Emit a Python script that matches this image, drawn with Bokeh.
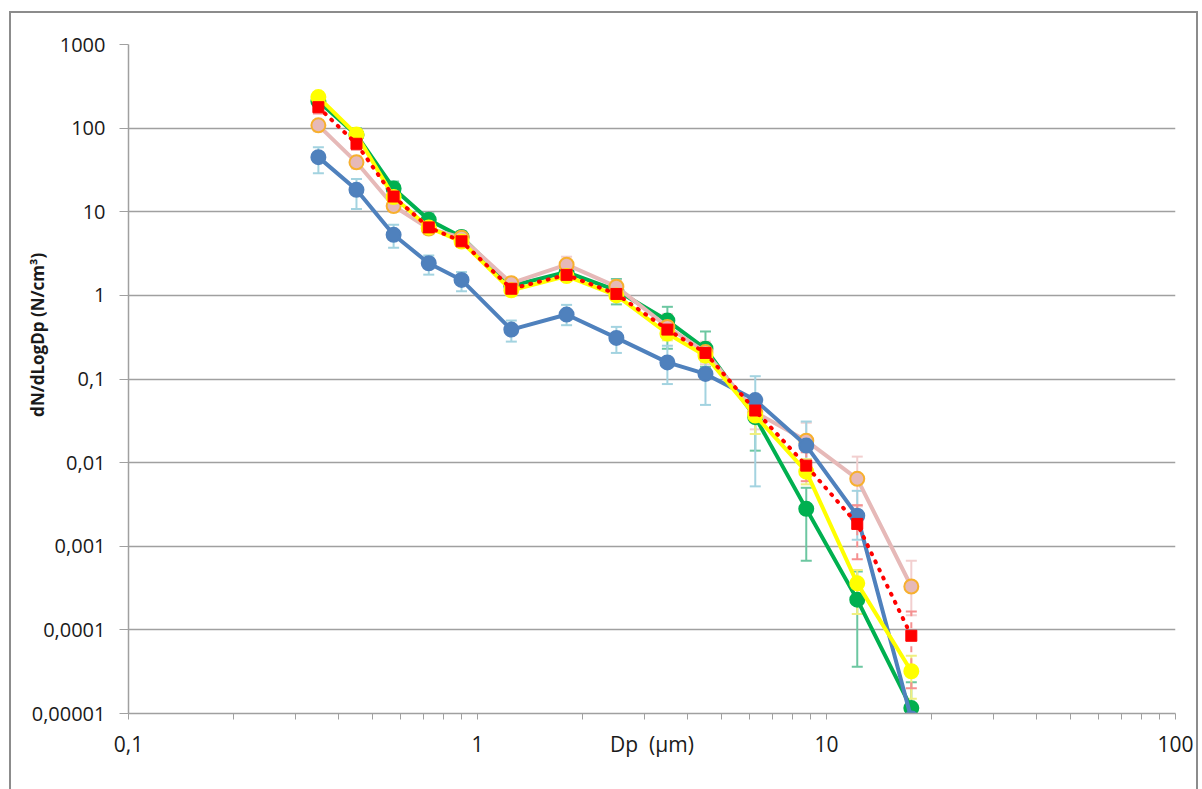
from bokeh.plotting import figure
from bokeh.models import (ColumnDataSource, FixedTicker, CustomJSTickFormatter,
                          Legend, LegendItem, Range1d)
from bokeh.embed import file_html
from bokeh.resources import INLINE

# ---------------- data ----------------
dp = [0.35, 0.45, 0.575, 0.725, 0.9, 1.25, 1.8, 2.5, 3.5, 4.5, 6.25, 8.75, 12.25, 17.5]

primavera = [210, 83, 19, 8.0, 5.0, 1.3, 1.9, 1.15, 0.50, 0.23, 0.035, 0.0028, 0.00023, 0.0000116]
primavera_hi = [260, 100, 23, 9.5, 5.8, 1.5, 2.2, 1.57, 0.73, 0.37, 0.06, 0.005, 0.0005, 0.0000236]
primavera_lo = [170, 68, 16, 6.8, 4.3, 1.1, 1.6, 0.78, 0.23, 0.14, 0.0139, 0.00067, 0.0000363, 0.00001]

autunno = [108, 39, 11.7, 6.3, 4.9, 1.40, 2.33, 1.27, 0.42, 0.21, 0.040, 0.0183, 0.0064, 0.00033]
autunno_hi = [125, 46, 13.5, 7.2, 5.6, 1.6, 2.9, 1.5, 0.6, 0.28, 0.06, 0.03, 0.0118, 0.00067]
autunno_lo = [92, 33, 10, 5.4, 4.2, 1.2, 1.85, 1.05, 0.33, 0.15, 0.025, 0.011, 0.003, 0.00015]

inverno = [45, 18.3, 5.3, 2.42, 1.53, 0.39, 0.59, 0.31, 0.158, 0.115, 0.056, 0.016, 0.00232, 0.0000087]
inverno_hi = [59, 24.7, 7.0, 3.0, 1.9, 0.5, 0.77, 0.42, 0.25, 0.2, 0.108, 0.031, 0.0046, 0.0000087]
inverno_lo = [28.9, 10.8, 3.7, 1.77, 1.12, 0.28, 0.44, 0.205, 0.087, 0.049, 0.0052, 0.008, 0.0012, 0.0000087]

estate = [235, 84, 15, 6.5, 4.4, 1.15, 1.7, 1.0, 0.35, 0.19, 0.0365, 0.0078, 0.00036, 0.000032]
estate_hi = [270, 95, 17, 7.2, 4.9, 1.3, 1.95, 1.15, 0.42, 0.23, 0.045, 0.011, 0.00052, 0.000049]
estate_lo = [200, 72, 13, 5.8, 3.9, 1.0, 1.5, 0.87, 0.29, 0.16, 0.022, 0.0055, 0.000155, 0.000015]

annuale = [178, 65, 15.2, 6.5, 4.43, 1.20, 1.76, 1.04, 0.39, 0.205, 0.042, 0.0092, 0.00185, 0.000085]
annuale_hi = [200, 72, 16.5, 7.0, 4.8, 1.3, 1.9, 1.12, 0.44, 0.25, 0.05, 0.0133, 0.0031, 0.000166]
annuale_lo = [150, 55, 13.5, 5.8, 4.0, 1.05, 1.55, 0.9, 0.32, 0.17, 0.033, 0.006, 0.0007, 0.00002]

x_ticks = [0.1, 1, 10, 100]
x_minor = [m * d for d in (0.1, 1, 10) for m in range(1, 10)] + [100]
y_ticks = [1e-5, 1e-4, 1e-3, 1e-2, 1e-1, 1, 10, 100, 1000]
x_title = "Dp\u00a0\u00a0(µm)"

series = [
    # name, values, hi, lo, line color, marker, fill, outline, err color, line style, err dash
    ("primavera", primavera, primavera_hi, primavera_lo, "#00b050", "circle", "#00b050", "#00b050", "#6cc7a1", "solid", "solid"),
    ("autunno", autunno, autunno_hi, autunno_lo, "#e6b9b8", "circle", "#e6b9b8", "#f7b02e", "#f2cfcf", "solid", "solid"),
    ("inverno", inverno, inverno_hi, inverno_lo, "#4f81bd", "circle", "#4f81bd", "#4f81bd", "#a3d3e0", "solid", "solid"),
    ("estate", estate, estate_hi, estate_lo, "#ffff00", "circle", "#ffff00", "#ffff00", "#efef80", "solid", "solid"),
    ("annuale", annuale, annuale_hi, annuale_lo, "#ff0000", "square", "#ff0000", "#ff0000", "#f59090", "dotted", "dashed"),
]

# ---------------- figure ----------------
x_lo, x_hi = 0.1, 100
p = figure(frame_width=1047, frame_height=669, x_axis_type="log", y_axis_type="log",
           x_range=Range1d(x_lo, x_hi), y_range=Range1d(1e-5, 1000),
           output_backend="svg", toolbar_location=None,
           min_border_left=117, min_border_right=21, min_border_top=31, min_border_bottom=10,
           styles={"border": "2px solid #8c8c8c"})
p.margin = (11, 0, 0, 9)
p.outline_line_color = None
p.background_fill_color = "white"
p.border_fill_color = "white"

# the axis title sits on the tick-label row, at the geometric middle of the x range
x_mid = (x_lo * x_hi) ** 0.5
xfmt = CustomJSTickFormatter(args=dict(mid=x_mid, title=x_title), code="""
if (Math.abs(tick - mid) < 1e-6) { return title; }
return tick.toString().replace('.', ',');
""")
yfmt = CustomJSTickFormatter(code="return tick.toString().replace('.', ',');")

# x axis
p.xaxis.ticker = FixedTicker(ticks=x_ticks + [x_mid], minor_ticks=x_minor)
p.xaxis.formatter = xfmt
p.xaxis.axis_line_color = "#a0a0a0"
p.xaxis.axis_line_width = 1.5
p.xaxis.major_tick_out = 0
p.xaxis.major_tick_in = 0
p.xaxis.minor_tick_line_color = "#a0a0a0"
p.xaxis.minor_tick_out = 6
p.xaxis.minor_tick_in = 0
p.xaxis.major_label_text_font = "Open Sans"
p.xaxis.major_label_text_font_size = "21px"
p.xaxis.major_label_text_color = "#1a1a1a"
p.xaxis.major_label_standoff = 10

# y axis
p.yaxis.ticker = FixedTicker(ticks=y_ticks, minor_ticks=[])
p.yaxis.formatter = yfmt
p.yaxis.axis_line_color = "#a0a0a0"
p.yaxis.axis_line_width = 1.5
p.yaxis.major_tick_line_color = "#a0a0a0"
p.yaxis.major_tick_out = 9
p.yaxis.major_tick_in = 0
p.yaxis.minor_tick_out = 0
p.yaxis.minor_tick_in = 0
p.yaxis.major_label_text_font = "Open Sans"
p.yaxis.major_label_text_font_size = "20px"
p.yaxis.major_label_text_color = "#1a1a1a"
p.yaxis.major_label_standoff = 14
p.yaxis.axis_label = "\u200b" + "\u00a0" * 20 + "dN/dLogDp (N/cm³)"
p.yaxis.axis_label_text_font = "Open Sans"
p.yaxis.axis_label_text_font_style = "bold"
p.yaxis.axis_label_text_font_size = "17px"
p.yaxis.axis_label_text_color = "#1a1a1a"
p.yaxis.axis_label_standoff = -20

p.xgrid.visible = False
p.ygrid.ticker = FixedTicker(ticks=y_ticks, minor_ticks=[])
p.ygrid.grid_line_color = "#a0a0a0"
p.ygrid.grid_line_width = 1.5

# error bars (drawn first, beneath the lines)
for name, vals, hi, lo, lc, mk, fc, oc, ec, ld, ed in series:
    src = ColumnDataSource(dict(x=dp, hi=hi, lo=lo))
    p.segment(x0="x", y0="lo", x1="x", y1="hi", source=src, line_color=ec,
              line_width=2, line_dash=ed)
    p.scatter(x="x", y="hi", source=src, marker="dash", size=11, line_color=ec, line_width=2)
    p.scatter(x="x", y="lo", source=src, marker="dash", size=11, line_color=ec, line_width=2)

items = []
for name, vals, hi, lo, lc, mk, fc, oc, ec, ld, ed in series:
    src = ColumnDataSource(dict(x=dp, y=vals))
    if ld == "dotted":
        ln = p.line("x", "y", source=src, line_color=lc, line_width=4,
                    line_dash="1 8", line_cap="round")
        sc = p.scatter("x", "y", source=src, marker=mk, size=11,
                       fill_color=fc, line_color=oc, line_width=1)
    else:
        ln = p.line("x", "y", source=src, line_color=lc, line_width=4)
        sc = p.scatter("x", "y", source=src, marker=mk, size=14,
                       fill_color=fc, line_color=oc, line_width=2)
    items.append(LegendItem(label=name, renderers=[ln, sc]))

legend = Legend(items=items, orientation="horizontal", location="top_center",
                glyph_width=60, glyph_height=22, label_standoff=9, spacing=34,
                padding=0, margin=0, border_line_color=None, background_fill_alpha=0,
                label_text_font="Open Sans", label_text_font_size="19px",
                label_text_color="#262626")
p.add_layout(legend, "below")

open("out.html", "w").write(file_html(p, INLINE))
